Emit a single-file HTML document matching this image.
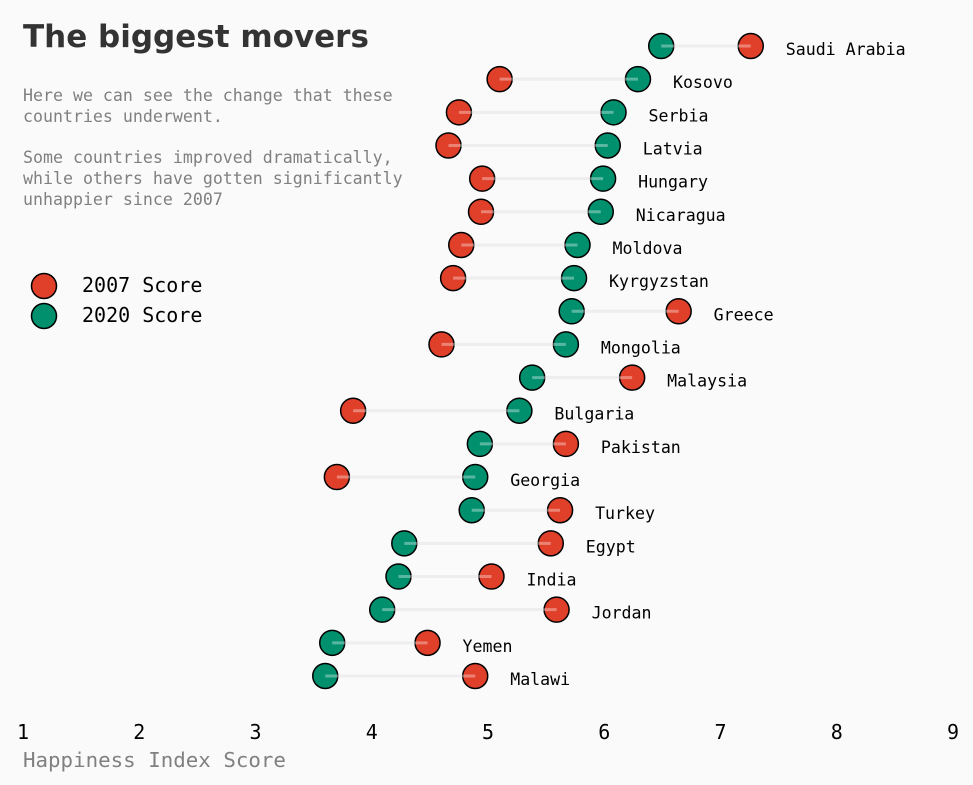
<!DOCTYPE html>
<html><head><meta charset="utf-8"><style>
body{margin:0;background:#fafafa;}
svg{display:block;}
</style></head><body>
<svg id="chart" width="973" height="785">
<rect width="973" height="785" fill="#fafafa"/>
<text x="23" y="47" font-family="'DejaVu Sans','Liberation Sans',sans-serif" font-weight="bold" font-size="31" fill="#333">The biggest movers</text>
<g font-family="'DejaVu Sans Mono','Liberation Mono',monospace" font-size="16.6" fill="#808080">
<text x="23" y="101">Here we can see the change that these</text>
<text x="23" y="122">countries underwent.</text>
<text x="23" y="163">Some countries improved dramatically,</text>
<text x="23" y="184">while others have gotten significantly</text>
<text x="23" y="205">unhappier since 2007</text>
</g>
<g>
<circle cx="44" cy="286" r="12.5" fill="#e0402a" stroke="#000" stroke-width="1.5"/>
<text x="82" y="292" font-family="'DejaVu Sans Mono','Liberation Mono',monospace" font-size="20" fill="#000">2007 Score</text>
<circle cx="44" cy="316" r="12.5" fill="#00906e" stroke="#000" stroke-width="1.5"/>
<text x="82" y="322" font-family="'DejaVu Sans Mono','Liberation Mono',monospace" font-size="20" fill="#000">2020 Score</text>
</g>
<g id="xaxis"></g>
<text x="23" y="767" font-family="'DejaVu Sans Mono','Liberation Mono',monospace" font-size="20.8" fill="#808080">Happiness Index Score</text>
<g id="marks"></g>
</svg>
<script>
const countries=["Saudi Arabia","Kosovo","Serbia","Latvia","Hungary","Nicaragua","Moldova","Kyrgyzstan","Greece","Mongolia","Malaysia","Bulgaria","Pakistan","Georgia","Turkey","Egypt","India","Jordan","Yemen","Malawi"];
const score2007=[7.26,5.10,4.75,4.66,4.95,4.94,4.77,4.70,6.64,4.60,6.24,3.84,5.67,3.70,5.62,5.54,5.03,5.59,4.48,4.89];
const score2020=[6.49,6.29,6.08,6.03,5.99,5.97,5.77,5.74,5.72,5.67,5.38,5.27,4.93,4.89,4.86,4.28,4.23,4.09,3.66,3.60];
const xTicks=[1,2,3,4,5,6,7,8,9];
const NS="http://www.w3.org/2000/svg";
const x=v=>23+(v-1)*(953-23)/8;
const y=i=>46+i*(676-46)/19;
const mono="'DejaVu Sans Mono','Liberation Mono',monospace";
function mk(tag,attrs,parent){const e=document.createElementNS(NS,tag);for(const k in attrs)e.setAttribute(k,attrs[k]);parent.appendChild(e);return e;}
const ax=document.getElementById('xaxis');
xTicks.forEach(t=>{
  const tx=mk('text',{x:x(t),y:739,'text-anchor':'middle','font-family':mono,'font-size':20,fill:'#000'},ax);
  tx.textContent=t;
  
  
});
const g=document.getElementById('marks');
countries.forEach((c,i)=>{
  const a=score2007[i],b=score2020[i];
  const cy=y(i);
  const line=mk('line',{x1:x(a),x2:x(b),y1:cy,y2:cy,stroke:'#e5e5e5','stroke-width':3},g);
  
  
  const c1=mk('circle',{cx:x(a),cy:cy,r:12.5,fill:'#e0402a',stroke:'#000','stroke-width':1.5},g);
  
  
  const c2=mk('circle',{cx:x(b),cy:cy,r:12.5,fill:'#00906e',stroke:'#000','stroke-width':1.5},g);
  
  
  const hl=mk('line',{x1:x(a),x2:x(b),y1:cy,y2:cy,stroke:'#ffffff','stroke-width':3,'stroke-opacity':0.35},g);
  
  
  const lb=mk('text',{x:x(Math.max(a,b))+35,y:cy+9,'font-family':mono,'font-size':16.6,fill:'#000'},g);
  lb.textContent=c;
  
  
});
</script>
</body></html>
